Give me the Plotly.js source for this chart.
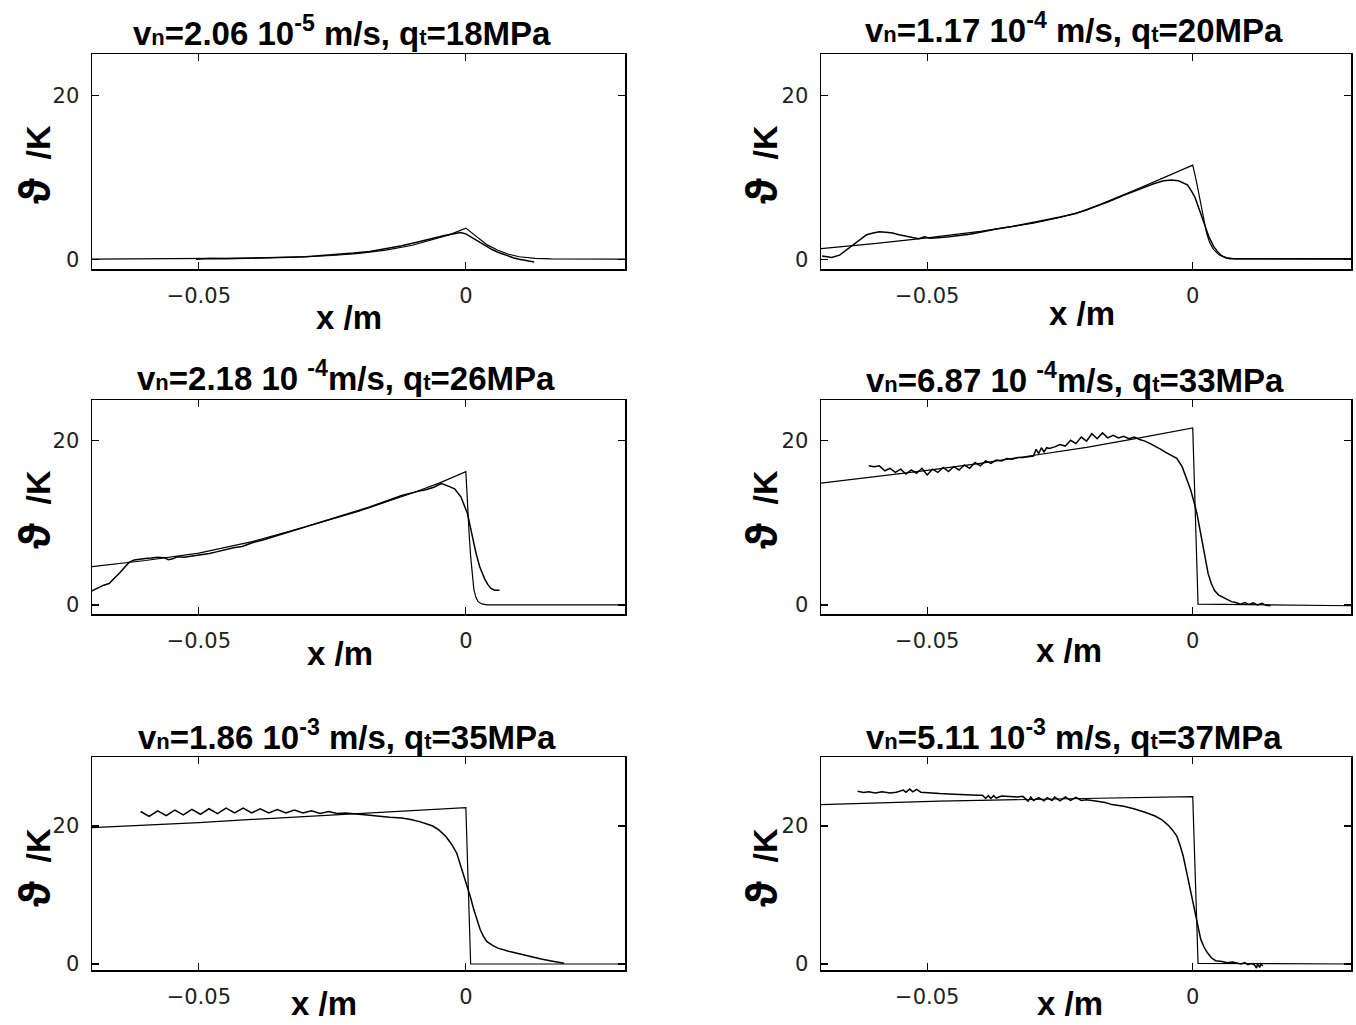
<!DOCTYPE html>
<html>
<head>
<meta charset="utf-8">
<script src="https://cdn.plot.ly/plotly-3.0.1.min.js"></script>
<style>html,body{margin:0;padding:0;background:#fff;}</style>
</head>
<body>
<div id="chart" style="width:1356px;height:1025px;"></div>
<script>
// ---------------- DATA ----------------
const panelTitles = [
  "v<span style=\"font-size:22px\">n</span>=2.06 10<sup>-5</sup> m/s, q<span style=\"font-size:22px\">t</span>=18MPa",
  "v<span style=\"font-size:22px\">n</span>=1.17 10<sup>-4</sup> m/s, q<span style=\"font-size:22px\">t</span>=20MPa",
  "v<span style=\"font-size:22px\">n</span>=2.18 10 <sup>-4</sup>m/s, q<span style=\"font-size:22px\">t</span>=26MPa",
  "v<span style=\"font-size:22px\">n</span>=6.87 10 <sup>-4</sup>m/s, q<span style=\"font-size:22px\">t</span>=33MPa",
  "v<span style=\"font-size:22px\">n</span>=1.86 10<sup>-3</sup> m/s, q<span style=\"font-size:22px\">t</span>=35MPa",
  "v<span style=\"font-size:22px\">n</span>=5.11 10<sup>-3</sup> m/s, q<span style=\"font-size:22px\">t</span>=37MPa"
];
const xAxisLabel = "x /m";
const yAxisLabel = "<span style=\"font-size:44px\">ϑ</span>\u00A0\u00A0/K";
const xTickVals = [-0.05, 0];
const xTickText = ["−0.05", "0"];
const yTickVals = [0, 20];
const yTickText = ["0", "20"];

// Panel 1: vn=2.06e-5
const p1TheoryX = [-0.07, -0.06, -0.05, -0.04, -0.03, -0.025, -0.02, -0.015, -0.01, -0.006, -0.003, 0, 0.001, 0.002, 0.003, 0.004, 0.006, 0.008, 0.010, 0.013, 0.016, 0.02, 0.0298];
const p1TheoryY = [0, 0.02, 0.05, 0.12, 0.3, 0.45, 0.7, 1.1, 1.7, 2.4, 3.0, 3.8, 3.3, 2.7, 2.2, 1.75, 1.1, 0.6, 0.3, 0.1, 0.03, 0, 0];
const p1MeasX = [-0.0505, -0.048, -0.045, -0.042, -0.039, -0.036, -0.033, -0.030, -0.027, -0.024, -0.021, -0.018, -0.015, -0.012, -0.009, -0.006, -0.004, -0.002, -0.001, 0.000, 0.001, 0.002, 0.003, 0.004, 0.005, 0.006, 0.007, 0.008, 0.009, 0.010, 0.011, 0.012, 0.0128];
const p1MeasY = [0.0, 0.08, 0.05, 0.12, 0.1, 0.2, 0.25, 0.3, 0.42, 0.55, 0.75, 0.95, 1.3, 1.65, 2.1, 2.6, 2.9, 3.15, 3.25, 3.1, 2.7, 2.3, 1.9, 1.5, 1.15, 0.85, 0.6, 0.35, 0.15, 0.0, -0.15, -0.3, -0.35];

// Panel 2: vn=1.17e-4
const p2TheoryX = [-0.07, -0.06, -0.05, -0.04, -0.03, -0.025, -0.02, -0.015, -0.01, -0.005, 0, 0.0007, 0.0014, 0.002, 0.0026, 0.0032, 0.0039, 0.005, 0.0063, 0.008, 0.0298];
const p2TheoryY = [1.3, 1.9, 2.6, 3.4, 4.4, 5.1, 6.0, 7.3, 8.7, 10.1, 11.5, 9.5, 7.3, 5.0, 3.2, 2.0, 1.2, 0.5, 0.2, 0.05, 0];
const p2MeasX = [-0.0698, -0.068, -0.0665, -0.0655, -0.0645, -0.0635, -0.0625, -0.0614, -0.0602, -0.059, -0.0578, -0.0565, -0.0553, -0.0541, -0.0528, -0.0516, -0.0505, -0.0495, -0.0485, -0.0472, -0.0459, -0.044, -0.042, -0.04, -0.037, -0.034, -0.031, -0.028, -0.025, -0.022, -0.019, -0.016, -0.013, -0.01, -0.0075, -0.0055, -0.004, -0.0027, -0.0015, -0.001, -0.0002, 0.0004, 0.001, 0.0017, 0.0023, 0.003, 0.0039, 0.0047, 0.0055, 0.0063, 0.007, 0.0298];
const p2MeasY = [0.4, 0.2, 0.5, 1.0, 1.5, 2.0, 2.5, 3.0, 3.2, 3.35, 3.3, 3.2, 3.0, 2.85, 2.7, 2.5, 2.75, 2.55, 2.6, 2.65, 2.75, 2.9, 3.05, 3.3, 3.7, 4.0, 4.35, 4.75, 5.15, 5.6, 6.3, 7.0, 7.8, 8.6, 9.2, 9.6, 9.7, 9.6, 9.3, 9.1, 8.3, 7.6, 6.5, 5.2, 4.0, 2.8, 1.6, 0.9, 0.4, 0.15, 0.05, 0.05];

// Panel 3: vn=2.18e-4
const p3TheoryX = [-0.07, -0.06, -0.05, -0.04, -0.03, -0.02, -0.01, -0.005, 0, 0.0003, 0.0006, 0.0009, 0.0012, 0.0015, 0.0019, 0.0023, 0.003, 0.004, 0.0298];
const p3TheoryY = [4.65, 5.4, 6.3, 7.7, 9.5, 11.4, 13.6, 14.8, 16.2, 12.0, 8.8, 5.9, 3.6, 1.9, 0.9, 0.4, 0.12, 0.02, 0];
const p3MeasX = [-0.07, -0.0688, -0.0678, -0.0668, -0.0658, -0.0648, -0.0638, -0.063, -0.0621, -0.061, -0.06, -0.0589, -0.0577, -0.0565, -0.0557, -0.0549, -0.054, -0.0528, -0.0516, -0.05, -0.048, -0.0467, -0.045, -0.0435, -0.0419, -0.04, -0.038, -0.036, -0.034, -0.032, -0.03, -0.027, -0.024, -0.021, -0.018, -0.015, -0.012, -0.009, -0.0075, -0.006, -0.0046, -0.0035, -0.0021, -0.0009, 0.0003, 0.0011, 0.0019, 0.0026, 0.0035, 0.0041, 0.0047, 0.0054, 0.006, 0.0063];
const p3MeasY = [1.7, 2.1, 2.4, 2.6, 3.2, 3.9, 4.65, 5.2, 5.45, 5.6, 5.65, 5.7, 5.8, 5.75, 5.5, 5.6, 5.85, 5.8, 5.9, 6.0, 6.25, 6.45, 6.75, 6.95, 7.1, 7.55, 7.9, 8.3, 8.7, 9.1, 9.5, 10.05, 10.7, 11.3, 11.9, 12.6, 13.3, 13.8, 14.0, 14.3, 14.75, 14.5, 14.1, 13.1, 11.1, 8.7, 6.3, 4.65, 3.2, 2.5, 2.0, 1.8, 1.75, 1.8];

// Panel 4: vn=6.87e-4
const p4TheoryX = [-0.07, -0.06, -0.05, -0.04, -0.03, -0.02, -0.01, 0, 0.001, 0.0298];
const p4TheoryY = [14.8, 15.55, 16.35, 17.2, 18.15, 19.15, 20.3, 21.5, 0.1, -0.1];
const p4MeasX = [-0.061, -0.060, -0.059, -0.058, -0.057, -0.056, -0.055, -0.054, -0.053, -0.052, -0.051, -0.050, -0.049, -0.048, -0.047, -0.046, -0.045, -0.044, -0.043, -0.042, -0.041, -0.040, -0.039, -0.038, -0.037, -0.036, -0.035, -0.034, -0.033, -0.032, -0.031, -0.030, -0.0295, -0.029, -0.0285, -0.028, -0.0275, -0.027, -0.026, -0.025, -0.024, -0.023, -0.022, -0.021, -0.020, -0.019, -0.018, -0.017, -0.016, -0.015, -0.014, -0.013, -0.012, -0.011, -0.010, -0.009, -0.008, -0.007, -0.006, -0.005, -0.004, -0.003, -0.002, -0.001, -0.0004, 0.0002, 0.0008, 0.0014, 0.002, 0.0025, 0.0029, 0.0035, 0.0041, 0.0049, 0.0057, 0.0065, 0.0073, 0.0081, 0.009, 0.0098, 0.0106, 0.0114, 0.0122, 0.013, 0.0138, 0.0146];
const p4MeasY = [16.9, 16.8, 16.9, 16.3, 16.6, 16.1, 16.5, 15.9, 16.4, 16.0, 16.6, 15.8, 16.5, 16.1, 16.7, 16.2, 16.8, 16.4, 17.0, 16.6, 17.3, 16.9, 17.5, 17.2, 17.6, 17.5, 17.8, 17.7, 17.9, 17.9, 18.0, 18.1, 18.9, 18.4, 19.1, 18.6, 19.1, 19.0, 19.2, 19.5, 19.3, 20.0, 19.6, 20.4, 19.9, 20.8, 20.2, 20.9, 20.3, 20.6, 20.3, 20.5, 20.2, 20.4, 20.1, 19.9, 19.6, 19.3, 18.9, 18.5, 18.2, 17.8, 16.8, 15.0, 14.0, 12.6, 11.1, 9.0, 7.0, 5.3, 3.8, 2.6, 1.75, 1.2, 0.93, 0.6, 0.4, 0.3, 0.1, 0.3, 0.05, 0.25, 0.0, 0.2, -0.05, -0.1];

// Panel 5: vn=1.86e-3
const p5TheoryX = [-0.07, -0.06, -0.05, -0.04, -0.03, -0.02, -0.01, 0, 0.0009, 0.0298];
const p5TheoryY = [19.75, 20.1, 20.5, 20.95, 21.35, 21.8, 22.2, 22.65, 0, 0];
const p5MeasX = [-0.0609, -0.0593, -0.0577, -0.0561, -0.0545, -0.0529, -0.0513, -0.0497, -0.0481, -0.0465, -0.0449, -0.0433, -0.0417, -0.0401, -0.0385, -0.0369, -0.0353, -0.0337, -0.0321, -0.0305, -0.0289, -0.0273, -0.0257, -0.0241, -0.0225, -0.0205, -0.018, -0.0143, -0.012, -0.0103, -0.0085, -0.0062, -0.005, -0.0037, -0.0027, -0.0017, -0.0007, 0.0003, 0.0009, 0.0015, 0.0021, 0.0027, 0.0033, 0.0039, 0.005, 0.006, 0.008, 0.01, 0.012, 0.0141, 0.016, 0.0181, 0.0184];
const p5MeasY = [22.1, 21.4, 22.2, 21.5, 22.3, 21.6, 22.4, 21.7, 22.5, 21.8, 22.6, 21.9, 22.6, 21.9, 22.5, 21.9, 22.4, 21.9, 22.3, 21.9, 22.2, 21.8, 22.1, 21.8, 21.9, 21.7, 21.55, 21.25, 21.15, 20.95, 20.6, 20.0, 19.4, 18.45, 17.4, 16.05, 13.6, 11.2, 9.6, 7.85, 6.3, 4.96, 4.0, 3.27, 2.7, 2.3, 1.85, 1.45, 1.05, 0.72, 0.45, 0.23, 0.1];

// Panel 6: vn=5.11e-3
const p6TheoryX = [-0.07, -0.0477, -0.0233, 0, 0.001, 0.0298];
const p6TheoryY = [23.1, 23.6, 23.95, 24.25, 0.1, 0];
const p6MeasX = [-0.0631, -0.062, -0.061, -0.0598, -0.0585, -0.057, -0.0558, -0.0545, -0.054, -0.0533, -0.0527, -0.052, -0.0512, -0.05, -0.049, -0.0477, -0.046, -0.044, -0.042, -0.0405, -0.0396, -0.039, -0.0385, -0.038, -0.0375, -0.037, -0.036, -0.0347, -0.034, -0.033, -0.032, -0.031, -0.0305, -0.03, -0.029, -0.028, -0.0274, -0.0265, -0.026, -0.025, -0.024, -0.023, -0.022, -0.021, -0.02, -0.0193, -0.018, -0.0165, -0.0152, -0.013, -0.0111, -0.009, -0.0071, -0.0058, -0.0046, -0.0038, -0.003, -0.0024, -0.0018, -0.0012, -0.0006, 0.0, 0.0006, 0.0011, 0.0015, 0.0021, 0.0027, 0.0035, 0.0043, 0.0055, 0.0065, 0.0075, 0.0083, 0.0091, 0.0098, 0.0104, 0.011, 0.0116, 0.012, 0.0122, 0.0126, 0.0128, 0.0132];
const p6MeasY = [25.05, 24.85, 24.95, 24.8, 24.95, 24.8, 24.9, 25.2, 24.9, 25.35, 24.95, 25.3, 24.9, 24.8, 24.75, 24.7, 24.65, 24.55, 24.5, 24.45, 24.45, 24.0, 24.4, 24.0, 24.4, 24.05, 24.35, 24.25, 24.3, 24.2, 24.3, 23.6, 24.2, 23.7, 24.1, 23.65, 24.1, 23.7, 24.2, 23.65, 24.2, 23.7, 24.15, 23.7, 23.8, 23.75, 23.6, 23.4, 23.1, 22.85, 22.5, 22.0, 21.45, 20.9, 20.1, 19.4, 18.55, 17.2, 15.65, 13.5, 11.3, 8.8, 6.5, 5.0, 3.6, 2.5, 1.7, 0.9, 0.48, 0.35, 0.2, 0.3, 0.1, 0.0, 0.2, -0.1, 0.05, -0.1, -0.6, 0.0, -0.5, 0.0, -0.3];

// ---------------- LAYOUT / DRAWING ----------------
const W = 1356, H = 1025;
const series = [
  [p1TheoryX, p1TheoryY, p1MeasX, p1MeasY],
  [p2TheoryX, p2TheoryY, p2MeasX, p2MeasY],
  [p3TheoryX, p3TheoryY, p3MeasX, p3MeasY],
  [p4TheoryX, p4TheoryY, p4MeasX, p4MeasY],
  [p5TheoryX, p5TheoryY, p5MeasX, p5MeasY],
  [p6TheoryX, p6TheoryY, p6MeasX, p6MeasY]
];
const colPx = [[92, 625], [821, 1351]];
const rowPx = [[54, 269], [400, 614], [757, 970]];
const rowYRange = [[-1.2, 25.1], [-1.1, 24.9], [-0.87, 30]];
const xRange = [-0.07, 0.0298];
const titlePos = [[342, 31], [1074, 28], [346, 376], [1075, 378], [347, 735], [1074, 735]];
const xLabPos = [[349, 317], [1082, 313], [340, 653], [1069, 650], [324, 1003], [1070, 1003]];
const yLabX = [34, 761];
const yLabY = [165, 510, 868];

const traces = [];
const layout = {
  width: W, height: H,
  margin: {l: 0, r: 0, t: 0, b: 0},
  paper_bgcolor: '#fff', plot_bgcolor: '#fff',
  showlegend: false, hovermode: false,
  annotations: []
};
const tickFont = {family: 'DejaVu Sans', size: 21, color: '#222'};
const boldFont = {family: 'Liberation Sans, Arial, sans-serif', size: 33, color: '#000', weight: 'bold'};
const yTitleFont = {family: 'Liberation Sans, Arial, sans-serif', size: 34, color: '#000', weight: 'bold'};

series.forEach((s, i) => {
  const r = Math.floor(i / 2), c = i % 2;
  const sx = i === 0 ? '' : String(i + 1);
  traces.push({x: s[0], y: s[1], xaxis: 'x' + sx, yaxis: 'y' + sx, type: 'scatter', mode: 'lines',
    line: {color: '#000', width: 1.2}, name: 'theory'});
  traces.push({x: s[2], y: s[3], xaxis: 'x' + sx, yaxis: 'y' + sx, type: 'scatter', mode: 'lines',
    line: {color: '#000', width: 1.5}, name: 'measured'});
  const common = {showgrid: false, zeroline: false, showline: true, linecolor: '#000', linewidth: 1.5,
    mirror: 'ticks', ticks: 'inside', ticklen: 7, tickwidth: 1.2, tickcolor: '#000', tickfont: tickFont,
    ticklabelstandoff: 7, fixedrange: true};
  layout['xaxis' + sx] = Object.assign({}, common, {
    domain: [colPx[c][0] / W, colPx[c][1] / W], anchor: 'y' + sx, range: xRange,
    tickmode: 'array', tickvals: xTickVals, ticktext: xTickText});
  layout['yaxis' + sx] = Object.assign({}, common, {
    domain: [1 - rowPx[r][1] / H, 1 - rowPx[r][0] / H], anchor: 'x' + sx, range: rowYRange[r],
    tickmode: 'array', tickvals: yTickVals, ticktext: yTickText});
  layout.annotations.push({text: panelTitles[i], xref: 'paper', yref: 'paper',
    x: titlePos[i][0] / W, y: 1 - titlePos[i][1] / H, xanchor: 'center', yanchor: 'middle',
    showarrow: false, font: boldFont});
  layout.annotations.push({text: xAxisLabel, xref: 'paper', yref: 'paper',
    x: xLabPos[i][0] / W, y: 1 - xLabPos[i][1] / H, xanchor: 'center', yanchor: 'middle',
    showarrow: false, font: boldFont});
  layout.annotations.push({text: yAxisLabel, xref: 'paper', yref: 'paper', textangle: -90,
    x: yLabX[c] / W, y: 1 - yLabY[r] / H, xanchor: 'center', yanchor: 'middle',
    showarrow: false, font: yTitleFont});
});

Plotly.newPlot('chart', traces, layout, {staticPlot: true, displayModeBar: false});
</script>
</body>
</html>
